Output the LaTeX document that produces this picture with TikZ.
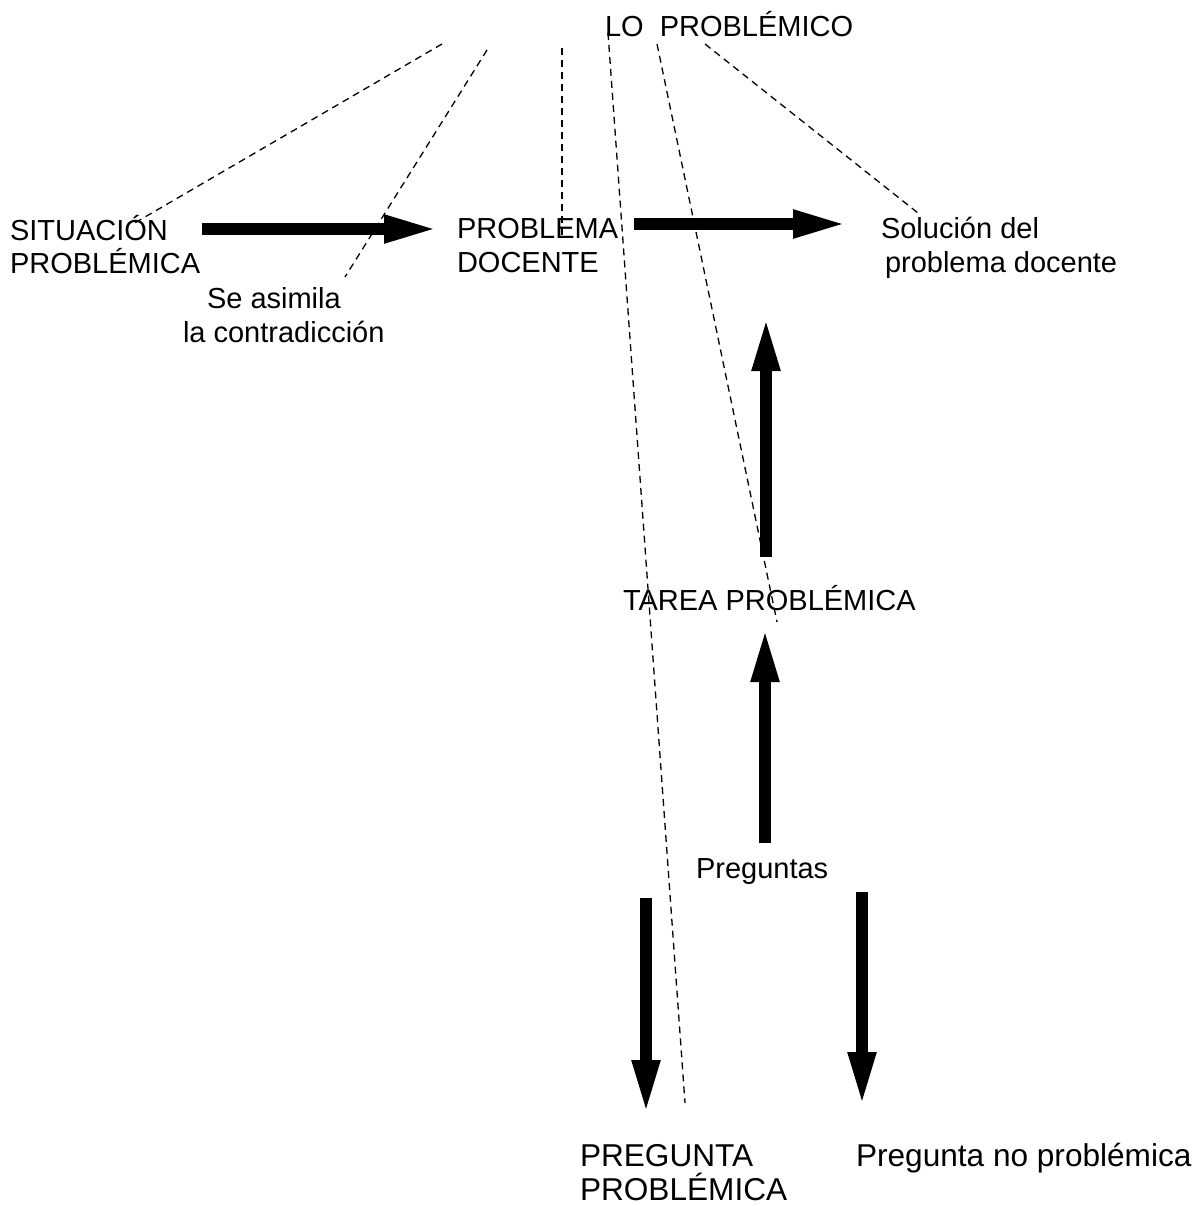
\documentclass[tikz,border=0pt]{standalone}
\usepackage{fontspec}
\setmainfont{Liberation Sans}
\usetikzlibrary{arrows.meta}
\tikzset{
  lbl/.style={inner sep=0pt, outer sep=0pt, anchor=base west, font=\fontsize{29}{33.5}\selectfont},
  biglbl/.style={lbl, font=\fontsize{31.6}{33.5}\selectfont},
  thin dash/.style={line width=1.3pt, dash pattern=on 7pt off 5pt},
  bigarrow/.style={line width=12.5pt, -{Triangle[length=56pt,width=25pt]}},
}
\begin{document}
\begin{tikzpicture}[x=1pt,y=-1pt]
\useasboundingbox (0,0) rectangle (1199,1206);
% texts (multi-line nodes: base = baseline of last line)
\node[lbl] (lo) at (605,37) {LO\ \ PROBLÉMICO};
\node[lbl, align=left] (sit) at (10,273.5) {SITUACIÓN\\PROBLÉMICA};
\node[lbl, align=left] (prob) at (457,272) {PROBLEMA\\DOCENTE};
\node[lbl, align=left] (sol) at (881,272) {Solución del\\\hspace*{4pt}problema docente};
\node[lbl, align=left] (asim) at (183,342) {\hspace*{24pt}Se asimila\\la contradicción};
\node[lbl] (tarea) at (623,610) {TAREA PROBLÉMICA};
\node[lbl] (preg) at (696,878) {Preguntas};
\node[biglbl, align=left] (pp) at (580,1200) {PREGUNTA\\PROBLÉMICA};
\node[biglbl] (pnp) at (856,1166) {Pregunta no problémica};
% dashed lines
\coordinate (d1a) at (442,44); \coordinate (d1b) at (133,224);
\coordinate (d2a) at (487,50); \coordinate (d2b) at (345,277);
\coordinate (d3a) at (562,48); \coordinate (d3b) at (562,235);
\coordinate (d4a) at (608,33); \coordinate (d4b) at (685,1103);
\coordinate (d5a) at (657,44); \coordinate (d5b) at (777,622);
\coordinate (d6a) at (705,44); \coordinate (d6b) at (918,213);
\draw[thin dash] (d1a) -- (d1b);
\draw[thin dash] (d2a) -- (d2b);
\draw[thin dash] (d3a) -- (d3b);
\draw[thin dash] (d4a) -- (d4b);
\draw[thin dash] (d5a) -- (d5b);
\draw[thin dash] (d6a) -- (d6b);
% thick arrows
\coordinate (a1s) at (202,229); \coordinate (a1e) at (440,229);
\coordinate (a2s) at (634,224); \coordinate (a2e) at (849,224);
\coordinate (a3s) at (766,557); \coordinate (a3e) at (766,315);
\coordinate (a4s) at (765,843); \coordinate (a4e) at (765,626);
\coordinate (a5s) at (646,898); \coordinate (a5e) at (646,1116);
\coordinate (a6s) at (862,892); \coordinate (a6e) at (862,1108);
\draw[bigarrow] (a1s) -- (a1e);
\draw[bigarrow] (a2s) -- (a2e);
\draw[bigarrow] (a3s) -- (a3e);
\draw[bigarrow] (a4s) -- (a4e);
\draw[bigarrow] (a5s) -- (a5e);
\draw[bigarrow] (a6s) -- (a6e);
\end{tikzpicture}
\end{document}
